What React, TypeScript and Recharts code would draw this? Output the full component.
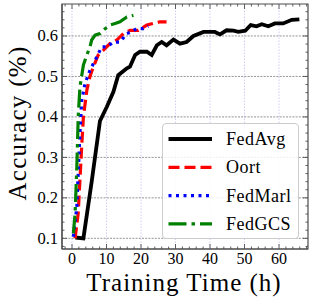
import React from 'react';
import { LineChart, Line, XAxis, YAxis, ReferenceLine, ReferenceArea, Legend } from 'recharts';

// ---- data ----
const fedAvgT = [1.0, 3.3, 5.7, 8.1, 10.1, 12, 13.4, 15.9, 16.8, 18.3, 19.7, 21.7, 23.1, 24.6, 26, 27.4, 29.4, 31.3, 33.2, 35.2, 38.1, 41.4, 42.9, 44.8, 46.8, 48.2, 50.2, 51.8, 53.5, 55, 56.9, 58.8, 61.2, 63.7, 65.9];
const fedAvgAcc = [0.102, 0.1, 0.24, 0.39, 0.425, 0.462, 0.503, 0.52, 0.524, 0.553, 0.561, 0.561, 0.553, 0.577, 0.585, 0.577, 0.591, 0.581, 0.585, 0.6, 0.61, 0.61, 0.604, 0.614, 0.613, 0.61, 0.613, 0.627, 0.624, 0.629, 0.624, 0.631, 0.631, 0.64, 0.641];

const oortT = [0.9, 1.8, 2.3, 2.8, 3.3, 4.3, 5.2, 6.2, 7.6, 9.1, 11, 13, 14.9, 16.8, 19.2, 21.7, 23.6, 25.5, 27.4];
const oortAcc = [0.1, 0.162, 0.244, 0.326, 0.4, 0.466, 0.5, 0.524, 0.553, 0.565, 0.581, 0.59, 0.606, 0.614, 0.614, 0.627, 0.631, 0.635, 0.635];

const fedMarlT = [0.4, 1.4, 1.8, 2.3, 2.8, 3.8, 5.2, 6.7, 8.6, 10.1, 12, 13.9, 15.9, 17.3, 18.7, 20.7, 22.1];
const fedMarlAcc = [0.104, 0.178, 0.26, 0.36, 0.44, 0.483, 0.515, 0.54, 0.573, 0.573, 0.585, 0.585, 0.606, 0.61, 0.618, 0.618, 0.624];

const fedGcsT = [0.4, 0.9, 1.4, 1.8, 2.3, 3.3, 4.3, 5.2, 5.7, 6.7, 8.1, 9.6, 11, 12.5, 13.9, 15.9, 17.8];
const fedGcsAcc = [0.112, 0.162, 0.277, 0.4, 0.474, 0.528, 0.553, 0.573, 0.59, 0.602, 0.606, 0.618, 0.627, 0.631, 0.635, 0.647, 0.651];

const seriesNames = ['FedAvg', 'Oort', 'FedMarl', 'FedGCS'];

// ---- ticks ----
const xMajor = [0, 10, 20, 30, 40, 50, 60];
const xAllTicks = [-2, 0, 2, 4, 6, 8, 10, 12, 14, 16, 18, 20, 22, 24, 26, 28, 30, 32, 34, 36, 38, 40, 42, 44, 46, 48, 50, 52, 54, 56, 58, 60, 62, 64, 66, 68];
const yMajor = [0.1, 0.2, 0.3, 0.4, 0.5, 0.6];
const yAllTicks = [0.08, 0.1, 0.12, 0.14, 0.16, 0.18, 0.2, 0.22, 0.24, 0.26, 0.28, 0.3, 0.32, 0.34, 0.36, 0.38, 0.4, 0.42, 0.44, 0.46, 0.48, 0.5, 0.52, 0.54, 0.56, 0.58, 0.6, 0.62, 0.64, 0.66];

const X_DOMAIN: [number, number] = [-2.9, 68.4];
const Y_DOMAIN: [number, number] = [0.0736, 0.679];

const toPts = (t: number[], a: number[]) => t.map((v, i) => ({ t: v, acc: a[i] }));
const fedAvgData = toPts(fedAvgT, fedAvgAcc);
const oortData = toPts(oortT, oortAcc);
const fedMarlData = toPts(fedMarlT, fedMarlAcc);
const fedGcsData = toPts(fedGcsT, fedGcsAcc);

// ---- styles ----
const W = 314;
const H = 306;
const PLOT_W = 246;
const PLOT_H = 245;
const FRAME = '#4d4d4d';
const SERIF = "'Times New Roman', 'Liberation Serif', 'DejaVu Serif', serif";

const styles = [
  { color: '#000000', width: 3.8, dash: undefined as string | undefined },
  { color: '#ff0000', width: 3.2, dash: '11 5' },
  { color: '#0000ff', width: 3.2, dash: '3 4.5' },
  { color: '#008000', width: 3.2, dash: '18 5 3.5 5' },
];

const isIn = (arr: number[], v: number) => arr.some((m) => Math.abs(m - v) < 1e-6);

const XTick = (props: any) => {
  const { x, y, payload } = props;
  const v = payload.value;
  const major = isIn(xMajor, v);
  const len = major ? 5 : 2.5;
  return (
    <g>
      <line x1={x} x2={x} y1={y} y2={y - len} stroke={FRAME} strokeWidth={0.9} />
      <line x1={x} x2={x} y1={y - PLOT_H} y2={y - PLOT_H + len} stroke={FRAME} strokeWidth={0.9} />
      {major && (
        <text x={x} y={y + 14.5} textAnchor="middle" fontSize={16} fontFamily={SERIF} fill="#000">
          {v}
        </text>
      )}
    </g>
  );
};

const YTick = (props: any) => {
  const { x, y, payload } = props;
  const v = payload.value;
  const major = isIn(yMajor, v);
  const len = major ? 5 : 2.5;
  return (
    <g>
      <line x1={x} x2={x + len} y1={y} y2={y} stroke={FRAME} strokeWidth={0.9} />
      <line x1={x + PLOT_W} x2={x + PLOT_W - len} y1={y} y2={y} stroke={FRAME} strokeWidth={0.9} />
      {major && (
        <text x={x - 4} y={y + 5.5} textAnchor="end" fontSize={16.5} fontFamily={SERIF} fill="#000">
          {v.toFixed(1)}
        </text>
      )}
    </g>
  );
};

const LegendBox = () => (
  <div
    style={{
      width: 137,
      height: 116,
      boxSizing: 'border-box',
      border: '1px solid #cccccc',
      borderRadius: 4,
      background: 'rgba(255,255,255,0.85)',
      position: 'relative',
    }}
  >
    <svg width={137} height={116} style={{ position: 'absolute', left: 0, top: 0 }}>
      {seriesNames.map((name, i) => {
        const cy = 15 + i * 28.3;
        const s = styles[i];
        return (
          <g key={name}>
            <line x1={5.5} x2={49} y1={cy} y2={cy} stroke={s.color} strokeWidth={s.width} strokeDasharray={s.dash} />
            <text x={63} y={cy + 6} fontSize={18} fontFamily={SERIF} letterSpacing={0.5} fill="#000">
              {name}
            </text>
          </g>
        );
      })}
    </svg>
  </div>
);

const XLabel = () => (
  <text x={184} y={291.3} textAnchor="middle" fontSize={25} letterSpacing={1} fontFamily={SERIF} fill="#000">
    Training Time (h)
  </text>
);

const YLabel = () => (
  <text
    x={0}
    y={0}
    transform="translate(25.5,123) rotate(-90)"
    textAnchor="middle"
    fontSize={25}
    letterSpacing={1.3}
    fontFamily={SERIF}
    fill="#000"
  >
    Accuracy (%)
  </text>
);

export default function App() {
  return (
    <div style={{ position: 'absolute', left: 0, top: 0, width: W, height: H, background: '#fff' }}>
      <LineChart width={W} height={H} margin={{ top: 4, right: 6, left: 0, bottom: 0 }}>
        <XAxis
          type="number"
          dataKey="t"
          domain={X_DOMAIN}
          allowDataOverflow
          ticks={xAllTicks}
          interval={0}
          tick={<XTick />}
          tickLine={false}
          tickSize={0}
          tickMargin={0}
          height={57}
          axisLine={{ stroke: FRAME, strokeWidth: 1.2 }}
          label={{ content: () => <XLabel /> }}
        />
        <YAxis
          type="number"
          dataKey="acc"
          domain={Y_DOMAIN}
          allowDataOverflow
          ticks={yAllTicks}
          interval={0}
          tick={<YTick />}
          tickLine={false}
          tickSize={0}
          tickMargin={0}
          width={62}
          axisLine={{ stroke: FRAME, strokeWidth: 1.2 }}
          label={{ content: () => <YLabel /> }}
        />
        {xMajor.map((v) => (
          <ReferenceLine key={'vx' + v} x={v} stroke="#c2c2f2" strokeWidth={0.8} strokeDasharray="1.5 1.5" />
        ))}
        {yMajor.map((v) => (
          <ReferenceLine key={'hy' + v} y={v} stroke="#7a7a7a" strokeWidth={0.8} strokeDasharray="2 1.2" />
        ))}
        <ReferenceArea
          x1={X_DOMAIN[0]}
          x2={X_DOMAIN[1]}
          y1={Y_DOMAIN[0]}
          y2={Y_DOMAIN[1]}
          fill="none"
          fillOpacity={0}
          stroke={FRAME}
          strokeWidth={1.2}
        />
        {[fedAvgData, oortData, fedMarlData, fedGcsData].map((d, i) => (
          <Line
            key={seriesNames[i]}
            data={d}
            dataKey="acc"
            name={seriesNames[i]}
            type="linear"
            stroke={styles[i].color}
            strokeWidth={styles[i].width}
            strokeDasharray={styles[i].dash}
            dot={false}
            activeDot={false}
            isAnimationActive={false}
          />
        ))}
        <Legend
          layout="vertical"
          align="center"
          verticalAlign="middle"
          content={() => <LegendBox />}
          wrapperStyle={{ left: 162, top: 123, width: 137, height: 116 }}
        />
      </LineChart>
    </div>
  );
}
